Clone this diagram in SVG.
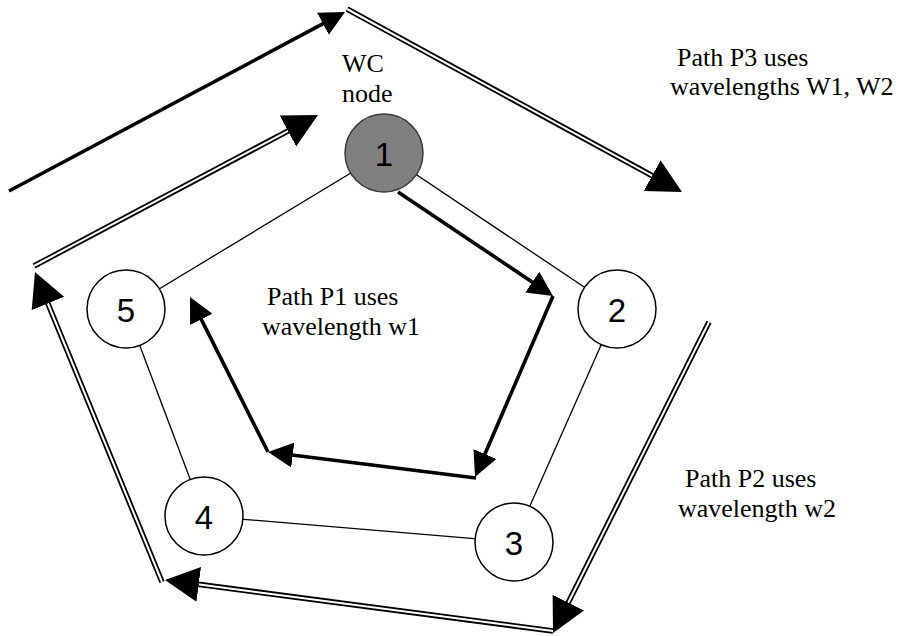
<svg xmlns="http://www.w3.org/2000/svg" width="903" height="636" viewBox="0 0 903 636">
  <style>
    .edge { stroke: #000; stroke-width: 1.3; fill: none; }
    .thick { stroke: #000; stroke-width: 3.6; fill: none; stroke-linecap: butt; marker-end: url(#arrowSmall); }
    .dblOuter { stroke: #000; stroke-width: 5.6; fill: none; stroke-linecap: butt; }
    .dblInner { stroke: #fff; stroke-width: 2; fill: none; stroke-linecap: butt; marker-end: url(#arrowBig); }
    .node circle { fill: #fff; stroke: #000; stroke-width: 1.5; }
    #node1 circle { fill: #808080; stroke: #3a3a3a; }
    .num { font-family: "Liberation Sans", Arial, sans-serif; font-size: 33px; fill: #000; text-anchor: middle; }
    .lbl { font-family: "Liberation Serif", "Times New Roman", serif; font-size: 26px; fill: #000; }
  </style>
  <defs>
    <marker id="arrowSmall" markerUnits="userSpaceOnUse" orient="auto" markerWidth="26" markerHeight="26" refX="15" refY="12.5" viewBox="0 0 26 26">
      <path d="M0,0 L25,12.5 L0,25 z" fill="#000"/>
    </marker>
    <marker id="arrowBig" markerUnits="userSpaceOnUse" orient="auto" markerWidth="36" markerHeight="36" refX="20" refY="17.5" viewBox="0 0 36 36">
      <path d="M0,0 L34,17.5 L0,35 z" fill="#000"/>
    </marker>
  </defs>

  <g id="connectors">
    <g id="ring-edges">
      <line class="edge" x1="384" y1="153" x2="617" y2="309"/>
      <line class="edge" x1="617" y1="309" x2="514" y2="542"/>
      <line class="edge" x1="514" y1="542" x2="204" y2="516"/>
      <line class="edge" x1="204" y1="516" x2="126" y2="309"/>
      <line class="edge" x1="126" y1="309" x2="384" y2="153"/>
    </g>
    <g id="path-P1">
      <line class="thick" x1="398" y1="192" x2="544.7" y2="290.4"/>
      <line class="thick" x1="553" y1="296" x2="479" y2="467.8"/>
      <line class="thick" x1="476" y1="478" x2="277.9" y2="453.2"/>
      <line class="thick" x1="268" y1="452" x2="194.5" y2="305.9"/>
    </g>
    <g id="path-P2">
      <line class="dblOuter" x1="709" y1="322" x2="559.3" y2="620.5"/>
      <line class="dblInner" x1="709" y1="322" x2="559.3" y2="620.5"/>
      <line class="dblOuter" x1="553" y1="631" x2="178.9" y2="581.8"/>
      <line class="dblInner" x1="553" y1="631" x2="178.9" y2="581.8"/>
      <line class="dblOuter" x1="162" y1="582" x2="40.3" y2="285"/>
      <line class="dblInner" x1="162" y1="582" x2="40.3" y2="285"/>
      <line class="dblOuter" x1="34" y1="266" x2="305.6" y2="121.6"/>
      <line class="dblInner" x1="34" y1="266" x2="305.6" y2="121.6"/>
    </g>
    <g id="path-P3">
      <line class="thick" x1="9" y1="191" x2="336.2" y2="16.7"/>
      <line class="dblOuter" x1="347" y1="9" x2="669.7" y2="185.3"/>
      <line class="dblInner" x1="347" y1="9" x2="669.7" y2="185.3"/>
    </g>
  </g>

  <g id="node1" class="node">
    <circle cx="384" cy="153" r="39"/>
    <text class="num" x="384" y="165.5">1</text>
  </g>
  <g id="node2" class="node">
    <circle cx="617" cy="309" r="39"/>
    <text class="num" x="617" y="321.5">2</text>
  </g>
  <g id="node3" class="node">
    <circle cx="514" cy="542" r="39"/>
    <text class="num" x="514" y="554.5">3</text>
  </g>
  <g id="node4" class="node">
    <circle cx="204" cy="516" r="39"/>
    <text class="num" x="204" y="528.5">4</text>
  </g>
  <g id="node5" class="node">
    <circle cx="126" cy="309" r="39"/>
    <text class="num" x="126" y="321.5">5</text>
  </g>

  <g id="labels">
    <text class="lbl" x="342" y="72">WC</text>
    <text class="lbl" x="342" y="102">node</text>
    <text class="lbl" x="677" y="66">Path P3 uses</text>
    <text class="lbl" x="670" y="95">wavelengths W1, W2</text>
    <text class="lbl" x="267" y="305">Path P1 uses</text>
    <text class="lbl" x="262" y="335">wavelength w1</text>
    <text class="lbl" x="685" y="487">Path P2 uses</text>
    <text class="lbl" x="678" y="517">wavelength w2</text>
  </g>
</svg>
